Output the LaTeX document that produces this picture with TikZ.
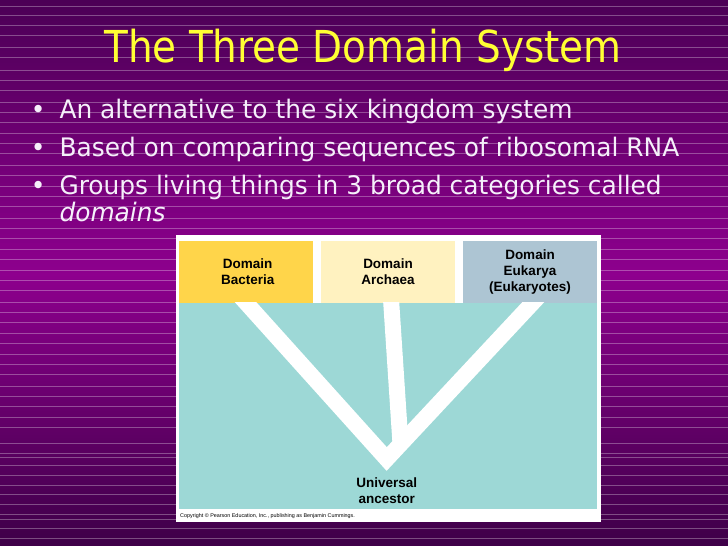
\documentclass[tikz,border=0pt]{standalone}
\usepackage{fontspec}
\setmainfont{Liberation Sans}
\newfontfamily\tahoma[FakeStretch=0.885]{DejaVu Sans}
\newfontfamily\verd[FakeStretch=0.975]{DejaVu Sans}
\newfontfamily\helv{Liberation Sans}
\definecolor{bgtop}{RGB}{76,0,86}
\definecolor{bgmid}{RGB}{142,0,142}
\definecolor{bgbot}{RGB}{62,0,72}
\definecolor{titleyellow}{RGB}{255,255,51}
\definecolor{bulletwhite}{RGB}{245,240,250}
\definecolor{bactcol}{RGB}{255,213,74}
\definecolor{archcol}{RGB}{255,242,192}
\definecolor{eukcol}{RGB}{173,197,211}
\definecolor{tealcol}{RGB}{157,216,214}
\tikzset{
  stripe/.style={draw=white, opacity=0.3, line width=0.9pt},
  titletext/.style={font=\tahoma\fontsize{44}{48}\selectfont, text=titleyellow, inner sep=0pt, anchor=base},
  bullettext/.style={font=\verd\fontsize{25.5}{30}\selectfont, text=bulletwhite, inner sep=0pt, anchor=base west},
  bulletdot/.style={font=\verd\fontsize{25.5}{30}\selectfont, text=bulletwhite, inner sep=0pt, anchor=base},
  domainbox/.style={draw=none, inner sep=0pt, font=\helv\bfseries\fontsize{13.5}{16}\selectfont, align=center, text=black},
  branch/.style={draw=white, line width=16pt, line join=miter},
}
\begin{document}
\begin{tikzpicture}[x=1pt,y=-1pt]
\useasboundingbox (0,0) rectangle (728,546);
% background gradient in bands
\foreach \yy in {0,3,...,543} {
  \pgfmathtruncatemacro{\pct}{\yy<273 ? \yy/2.73 : (546-\yy)/2.73}
  \ifnum\yy<273
    \colorlet{bandc}{bgmid!\pct!bgtop}
  \else
    \colorlet{bandc}{bgmid!\pct!bgbot}
  \fi
  \fill[bandc] (0,\yy-0.2) rectangle (728,\yy+3.2);
}
\foreach \yy in {6,15,25,35,47,57,70,80,90,102,112,122,133,143,153,165,175,186,196,206,218,228,238,249,259,270,280,290,302,312,322,333,343,354,364,374,386,396,406,417,427,443,453,457,465,475,485,494,504,514,519,528,538}
  \draw[stripe] (0,\yy) -- (728,\yy);
% title
\node[titletext] (title) at (363,62.7) {The Three Domain System};
% bullets
\node[bulletdot] (b1) at (38.3,118.3) {•};
\node[bullettext] (t1) at (59.3,118.3) {An alternative to the six kingdom system};
\node[bulletdot] (b2) at (38.3,156) {•};
\node[bullettext] (t2) at (59.3,156) {Based on comparing sequences of ribosomal RNA};
\node[bulletdot] (b3) at (38.3,194.5) {•};
\node[bullettext] (t3) at (59.3,194.5) {Groups living things in 3 broad categories called};
\node[bullettext] (t4) at (59.3,221.5) {\itshape domains};
% diagram frame
\fill[white] (176,235) rectangle (601,522);
\fill[tealcol] (179,302.7) rectangle (596.7,509);
\fill[bactcol] (179,241) rectangle (312.7,302.7);
\fill[archcol] (320.7,241) rectangle (455,302.7);
\fill[eukcol] (462.7,241) rectangle (596.7,302.7);
\node[domainbox] (bact) at (247.7,272) {Domain\\Bacteria};
\node[domainbox] (arch) at (388,272) {Domain\\Archaea};
\node[domainbox] (euk) at (530,272) {Domain\\Eukarya\\(Eukaryotes)};
\node[domainbox] (anc) at (386.7,490.5) {Universal\\ancestor};
\node[inner sep=0pt, anchor=west, font=\helv\fontsize{5.4}{6}\selectfont, text=black] (copy) at (180,516.5) {Copyright © Pearson Education, Inc., publishing as Benjamin Cummings.};
% tree
\coordinate (root) at (386.7,459);
\coordinate (bt) at (240,296);
\coordinate (et) at (539,296);
\coordinate (at) at (390.8,296);
\coordinate (aj) at (400.5,444);
\begin{scope}
\clip (179,302.7) rectangle (596.7,509);
\draw[branch] (bt) -- (root) -- (et);
\draw[branch] (at) -- (aj);
\end{scope}
\end{tikzpicture}
\end{document}
